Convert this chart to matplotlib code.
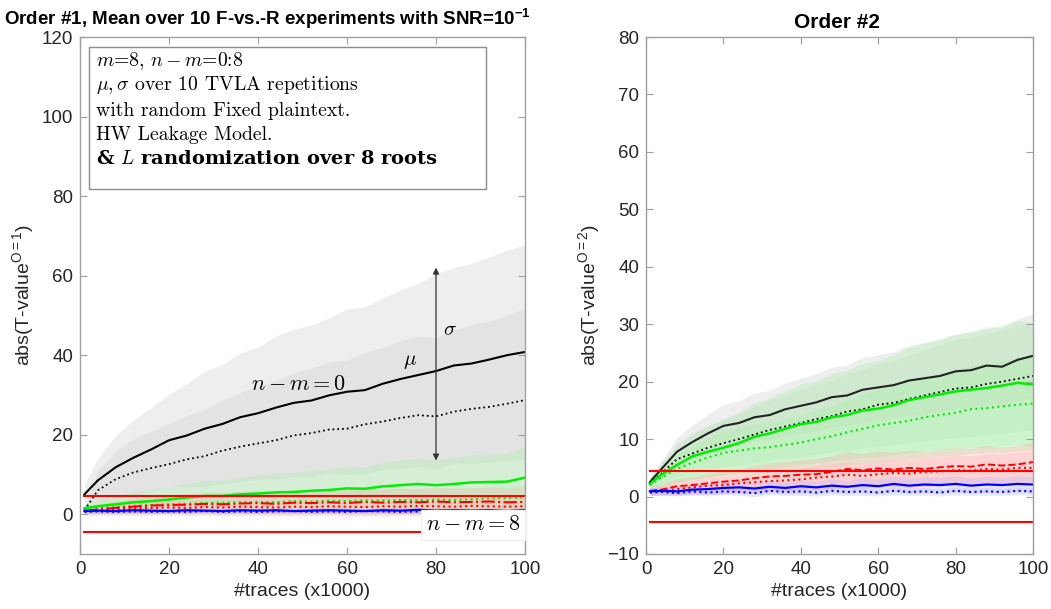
import matplotlib
matplotlib.use("Agg")
import matplotlib.pyplot as plt
from matplotlib.patches import Rectangle
import numpy as np

plt.rcParams['font.family'] = ['Liberation Sans', 'DejaVu Sans']
plt.rcParams['mathtext.fontset'] = 'custom'
plt.rcParams['mathtext.rm'] = 'Liberation Sans'
plt.rcParams['mathtext.it'] = 'Liberation Sans:italic'
plt.rcParams['mathtext.bf'] = 'Liberation Sans:bold'

# ---------------- data ----------------
traces = [1, 4, 8, 12, 16, 20, 24, 28, 32, 36, 40, 44, 48, 52, 56, 60, 64, 68, 72, 76, 80, 84, 88, 92, 96, 100]

# Order 1 (left)
o1_k_solid = [5.0, 8.5, 11.8, 14.2, 16.3, 18.6, 19.8, 21.5, 22.7, 24.4, 25.4, 26.8, 28.0, 28.6, 29.9, 30.8, 31.2, 32.8, 34.0, 35.0, 36.0, 37.4, 37.9, 38.9, 40.0, 40.8]
o1_k_solid_sd = [2.5, 5.5, 8.0, 9.5, 10.5, 11.6, 13.0, 14.5, 15.0, 16.2, 16.6, 18.0, 18.5, 19.0, 19.5, 20.8, 21.0, 21.5, 22.4, 23.0, 24.5, 24.6, 25.2, 25.8, 26.4, 27.0]
o1_k_dot = [1.0, 6.0, 8.8, 10.5, 11.6, 12.6, 13.8, 14.6, 16.0, 17.0, 17.8, 18.6, 19.8, 20.4, 21.3, 21.5, 22.6, 23.3, 24.2, 24.9, 24.6, 25.8, 26.5, 27.0, 27.8, 28.7]
o1_k_dot_sd = [0.8, 4.8, 7.0, 8.4, 9.3, 10.2, 11.0, 11.7, 12.8, 13.6, 14.3, 15.0, 15.8, 16.3, 17.0, 17.3, 18.0, 18.6, 19.4, 19.9, 19.8, 20.6, 21.2, 21.6, 22.3, 23.0]
o1_g_solid = [1.5, 2.0, 2.5, 3.0, 3.3, 3.7, 4.2, 4.6, 4.6, 5.0, 5.2, 5.5, 5.6, 5.9, 6.1, 6.5, 6.4, 7.0, 7.3, 7.6, 7.3, 7.6, 8.0, 8.1, 8.2, 9.2]
o1_g_solid_sd = [1.0, 1.7, 2.2, 2.6, 2.9, 3.2, 3.6, 3.9, 4.0, 4.3, 4.5, 4.8, 4.9, 5.1, 5.3, 5.6, 5.5, 6.0, 6.3, 6.5, 6.3, 6.6, 6.9, 7.0, 7.1, 7.8]
o1_g_dot = [1.2, 1.5, 1.8, 2.1, 2.3, 2.5, 2.6, 2.8, 2.9, 3.0, 3.1, 3.0, 3.3, 3.2, 3.4, 3.3, 3.5, 3.4, 3.6, 3.5, 3.7, 3.6, 3.8, 4.0, 4.1, 4.2]
o1_g_dot_sd = [1.0, 1.2, 1.5, 1.7, 1.9, 2.0, 2.1, 2.3, 2.4, 2.4, 2.5, 2.5, 2.6, 2.6, 2.7, 2.7, 2.8, 2.8, 2.9, 2.9, 3.0, 3.0, 3.0, 3.1, 3.1, 3.2]
o1_r_dd = [0.8, 1.2, 1.6, 1.9, 2.2, 2.3, 2.4, 2.6, 2.5, 2.7, 2.8, 2.6, 2.9, 2.8, 3.0, 2.8, 3.1, 2.9, 3.1, 3.0, 3.2, 3.0, 3.1, 3.2, 3.0, 3.1]
o1_r_dd_sd = [1.0, 1.5, 1.9, 2.2, 2.5, 2.6, 2.8, 2.9, 3.0, 3.1, 3.2, 3.1, 3.3, 3.2, 3.4, 3.3, 3.5, 3.4, 3.5, 3.4, 3.6, 3.5, 3.5, 3.6, 3.5, 3.6]
o1_r_dot = [0.7, 1.0, 1.3, 1.4, 1.6, 1.7, 1.6, 1.8, 1.7, 1.9, 1.8, 1.7, 1.9, 1.8, 2.0, 1.9, 1.8, 2.0, 1.9, 2.1, 2.0, 1.9, 2.1, 2.0, 1.9, 2.0]
o1_r_dot_sd = [0.8, 1.0, 1.2, 1.4, 1.5, 1.6, 1.6, 1.7, 1.7, 1.8, 1.8, 1.8, 1.9, 1.9, 1.9, 2.0, 2.0, 2.0, 2.0, 2.1, 2.1, 2.1, 2.1, 2.2, 2.2, 2.2]
o1_b_solid = [0.8, 0.9, 0.8, 1.0, 0.9, 0.8, 1.0, 0.9, 0.8, 1.0, 0.9, 1.0, 0.8, 0.9, 1.0, 0.9, 0.8, 1.0, 0.9, 1.1, 0.9, 1.0, 0.9, 1.0, 0.8, 1.0]
o1_b_solid_sd = [0.5, 0.6, 0.6, 0.6, 0.7, 0.6, 0.7, 0.6, 0.7, 0.7, 0.6, 0.7, 0.7, 0.6, 0.7, 0.7, 0.6, 0.7, 0.7, 0.8, 0.7, 0.7, 0.6, 0.7, 0.7, 0.7]
o1_b_dot = [0.6, 0.7, 0.6, 0.7, 0.6, 0.7, 0.6, 0.8, 0.6, 0.7, 0.6, 0.7, 0.8, 0.6, 0.7, 0.6, 0.8, 0.7, 0.6, 0.7, 0.8, 0.6, 0.7, 0.8, 0.7, 0.6]
o1_b_dot_sd = [0.4, 0.5, 0.5, 0.5, 0.5, 0.5, 0.5, 0.5, 0.5, 0.5, 0.5, 0.5, 0.5, 0.5, 0.5, 0.5, 0.5, 0.5, 0.5, 0.5, 0.5, 0.5, 0.5, 0.5, 0.5, 0.5]

# Order 2 (right)
o2_k_solid = [2.5, 4.8, 7.8, 9.5, 11.0, 12.3, 12.8, 13.8, 14.2, 15.2, 15.8, 16.4, 17.3, 17.6, 18.6, 19.0, 19.4, 20.2, 20.6, 21.0, 21.8, 22.0, 22.8, 22.6, 23.8, 24.5]
o2_k_solid_sd = [0.8, 1.5, 2.4, 2.9, 3.3, 3.7, 3.9, 4.2, 4.3, 4.6, 4.8, 5.0, 5.2, 5.3, 5.6, 5.7, 5.8, 6.1, 6.2, 6.3, 6.5, 6.6, 6.8, 6.8, 7.1, 7.3]
o2_k_dot = [2.3, 4.0, 6.5, 7.5, 8.5, 9.3, 10.0, 10.8, 11.6, 12.2, 12.8, 13.5, 14.0, 14.8, 15.2, 16.0, 16.3, 17.0, 17.6, 18.2, 18.8, 19.0, 19.6, 20.0, 20.5, 21.0]
o2_k_dot_sd = [1.0, 1.8, 2.9, 3.4, 3.8, 4.2, 4.5, 4.9, 5.2, 5.5, 5.8, 6.1, 6.3, 6.7, 6.8, 7.2, 7.3, 7.6, 7.9, 8.2, 8.5, 8.6, 8.8, 9.0, 9.2, 9.4]
o2_g_solid = [2.2, 3.8, 5.5, 7.0, 7.8, 8.5, 9.3, 10.4, 11.0, 11.8, 12.6, 13.0, 13.8, 14.2, 15.0, 15.3, 15.9, 16.8, 17.3, 17.8, 18.3, 18.6, 18.9, 19.3, 19.8, 19.5]
o2_g_solid_sd = [1.2, 2.1, 3.2, 4.0, 4.5, 4.9, 5.3, 5.9, 6.2, 6.6, 7.0, 7.2, 7.6, 7.8, 8.2, 8.4, 8.7, 9.2, 9.4, 9.7, 9.9, 10.1, 10.3, 10.5, 10.8, 10.9]
o2_g_dot = [2.0, 3.3, 4.8, 5.9, 6.8, 7.6, 8.0, 8.4, 8.6, 9.0, 9.4, 10.0, 10.5, 11.2, 11.8, 12.4, 12.8, 13.2, 13.8, 14.2, 14.6, 15.2, 15.4, 15.7, 16.0, 16.2]
o2_g_dot_sd = [1.0, 1.7, 2.4, 3.0, 3.4, 3.8, 4.0, 4.2, 4.3, 4.5, 4.7, 5.0, 5.3, 5.7, 6.0, 6.3, 6.5, 6.7, 7.0, 7.2, 7.4, 7.7, 7.8, 8.0, 8.1, 8.2]
o2_r_dash = [1.0, 1.2, 1.8, 2.0, 2.3, 2.6, 2.8, 3.2, 3.5, 3.6, 3.8, 3.9, 4.3, 4.8, 4.6, 4.9, 4.7, 5.0, 4.8, 5.1, 5.3, 5.2, 5.6, 5.4, 5.6, 6.0]
o2_r_dash_sd = [0.8, 1.0, 1.3, 1.5, 1.7, 1.9, 2.0, 2.2, 2.4, 2.5, 2.6, 2.7, 2.8, 3.0, 2.9, 3.0, 3.0, 3.1, 3.0, 3.1, 3.2, 3.2, 3.3, 3.2, 3.3, 3.4]
o2_r_dot = [0.8, 1.0, 1.3, 1.6, 1.9, 2.0, 2.3, 2.5, 2.7, 2.8, 3.0, 3.3, 3.5, 3.8, 3.6, 3.9, 4.1, 4.0, 4.3, 4.4, 4.6, 4.5, 4.8, 4.7, 5.0, 5.0]
o2_r_dot_sd = [0.6, 0.8, 1.0, 1.2, 1.4, 1.5, 1.6, 1.7, 1.8, 1.9, 2.0, 2.1, 2.2, 2.3, 2.2, 2.3, 2.4, 2.4, 2.5, 2.5, 2.6, 2.6, 2.7, 2.7, 2.8, 2.8]
o2_b_solid = [0.9, 1.0, 0.9, 1.2, 1.3, 1.5, 1.6, 1.4, 1.7, 1.5, 1.8, 1.6, 1.9, 1.7, 2.0, 1.8, 2.2, 1.9, 2.1, 2.0, 2.2, 1.9, 2.1, 2.0, 2.2, 2.1]
o2_b_solid_sd = [0.6, 0.7, 0.7, 0.8, 0.9, 1.0, 1.0, 1.0, 1.1, 1.0, 1.2, 1.1, 1.2, 1.1, 1.3, 1.2, 1.4, 1.3, 1.4, 1.3, 1.4, 1.3, 1.4, 1.3, 1.4, 1.4]
o2_b_dot = [0.7, 0.8, 0.6, 0.9, 0.7, 0.9, 0.8, 0.6, 1.0, 0.8, 0.9, 0.7, 1.0, 0.8, 0.9, 0.7, 1.0, 0.8, 0.9, 0.7, 1.0, 0.8, 0.9, 0.8, 1.0, 0.9]
o2_b_dot_sd = [0.5, 0.5, 0.5, 0.6, 0.6, 0.6, 0.6, 0.6, 0.7, 0.6, 0.7, 0.6, 0.7, 0.6, 0.7, 0.6, 0.7, 0.6, 0.7, 0.6, 0.7, 0.6, 0.7, 0.6, 0.7, 0.7]

threshold = 4.5

info_lines = [r"$m$=8, $n-m$=0:8",
              r"$\mu, \sigma$ over 10 TVLA repetitions",
              r"with random Fixed plaintext.",
              r"HW Leakage Model."]
info_bold = r"& $L$ randomization over 8 roots"

# --------------- figure ---------------
W, H = 1051, 609
fig = plt.figure(figsize=(W / 100, H / 100), dpi=100)

ax1 = fig.add_axes([80 / W, (H - 554) / H, 445 / W, 517 / H])
ax2 = fig.add_axes([646 / W, (H - 554) / H, 387 / W, 517 / H])

x = np.array(traces)

band_gray = '#d0d0d0'
band_green = '#a8f0a8'
band_red = '#ffb0b0'
band_blue = '#b0b0ff'


def band(ax, m, s, color, alpha):
    m = np.array(m); s = np.array(s)
    ax.fill_between(x, m - s, m + s, color=color, alpha=alpha, lw=0)


# left
band(ax1, o1_k_solid, o1_k_solid_sd, band_gray, 0.35)
band(ax1, o1_k_dot, o1_k_dot_sd, band_gray, 0.35)
band(ax1, o1_g_solid, o1_g_solid_sd, band_green, 0.35)
band(ax1, o1_g_dot, o1_g_dot_sd, band_green, 0.3)
band(ax1, o1_r_dd, o1_r_dd_sd, band_red, 0.3)
band(ax1, o1_r_dot, o1_r_dot_sd, band_red, 0.3)
band(ax1, o1_b_solid, o1_b_solid_sd, band_blue, 0.3)
band(ax1, o1_b_dot, o1_b_dot_sd, band_blue, 0.3)

ax1.plot(x, o1_k_solid, color='k', ls='-', lw=1.5)
ax1.plot(x, o1_k_dot, color='k', ls=':', lw=1.3)
ax1.plot(x, o1_g_solid, color='#00ee00', ls='-', lw=1.8)
ax1.plot(x, o1_g_dot, color='#00ee00', ls=':', lw=1.5)
ax1.plot(x, o1_r_dd, color='red', ls='-.', lw=1.5)
ax1.plot(x, o1_r_dot, color='red', ls=':', lw=1.5)
ax1.plot(x, o1_b_solid, color='blue', ls='-', lw=1.6)
ax1.plot(x, o1_b_dot, color='blue', ls=':', lw=1.5)
ax1.plot([traces[0], traces[-1]], [threshold, threshold], color='red', lw=1.5)
ax1.plot([traces[0], traces[-1]], [-threshold, -threshold], color='red', lw=1.5)

# right
band(ax2, o2_k_solid, o2_k_solid_sd, band_gray, 0.35)
band(ax2, o2_k_dot, o2_k_dot_sd, band_gray, 0.3)
band(ax2, o2_g_solid, o2_g_solid_sd, band_green, 0.35)
band(ax2, o2_g_dot, o2_g_dot_sd, band_green, 0.35)
band(ax2, o2_r_dash, o2_r_dash_sd, band_red, 0.35)
band(ax2, o2_r_dot, o2_r_dot_sd, band_red, 0.3)
band(ax2, o2_b_solid, o2_b_solid_sd, band_blue, 0.3)
band(ax2, o2_b_dot, o2_b_dot_sd, band_blue, 0.3)

ax2.plot(x, o2_k_solid, color='#222222', ls='-', lw=1.5)
ax2.plot(x, o2_k_dot, color='k', ls=':', lw=1.3)
ax2.plot(x, o2_g_solid, color='#00ee00', ls='-', lw=1.8)
ax2.plot(x, o2_g_dot, color='#00ee00', ls=':', lw=1.5)
ax2.plot(x, o2_r_dash, color='red', ls='--', lw=1.4)
ax2.plot(x, o2_r_dot, color='red', ls=':', lw=1.5)
ax2.plot(x, o2_b_solid, color='blue', ls='-', lw=1.6)
ax2.plot(x, o2_b_dot, color='blue', ls=':', lw=1.5)
ax2.plot([traces[0], traces[-1]], [threshold, threshold], color='red', lw=1.5)
ax2.plot([traces[0], traces[-1]], [-threshold, -threshold], color='red', lw=1.5)

# axes styling (MATLAB-like)
for ax, ylim, yt in [(ax1, (-10, 120), np.arange(0, 121, 20)), (ax2, (-10, 80), np.arange(-10, 81, 10))]:
    ax.set_xlim(0, 100)
    ax.set_ylim(*ylim)
    ax.set_xticks(np.arange(0, 101, 20))
    ax.set_yticks(yt)
    ax.tick_params(direction='in', length=5, width=0.8, colors='#a0a0a0', labelcolor='#262626',
                   labelsize=13.5, top=True, right=True, pad=5)
    for sp in ax.spines.values():
        sp.set_color('#a0a0a0')
        sp.set_linewidth(1.0)
    ax.set_xlabel('#traces (x1000)', fontsize=14, color='#262626', labelpad=4)

ax1.set_ylabel(r'abs(T-value$^{\mathrm{O=1}}$)', fontsize=14, color='#262626', labelpad=4)
ax2.set_ylabel(r'abs(T-value$^{\mathrm{O=2}}$)', fontsize=14, color='#262626', labelpad=4)

# info box in left axes
ax1.add_patch(Rectangle((1.95, 81.8), 89.2, 35.8, fill=True, facecolor='white',
                        edgecolor='#8c8c8c', lw=1.0, zorder=5))
line_y = [114.0, 107.9, 101.5, 95.3, 89.2]
for ty, s in zip(line_y[:4], info_lines):
    ax1.text(3.5, ty, s, fontsize=14.2, family='cmr10', math_fontfamily='cm',
             va='center', ha='left', zorder=6)
ax1.text(3.5, line_y[4], info_bold, fontsize=14, family='DejaVu Serif', fontweight='bold',
         math_fontfamily='cm', va='center', ha='left', zorder=6)

# annotations
ax1.annotate('', xy=(80, 13.5), xytext=(80, 62),
             arrowprops=dict(arrowstyle='<|-|>', color='#333333', lw=0.9,
                             mutation_scale=9, shrinkA=0, shrinkB=0))
ax1.text(81.5, 46.5, r'$\sigma$', fontsize=15, math_fontfamily='cm', va='center', ha='left')
ax1.text(72.5, 38.5, r'$\mu$', fontsize=15, math_fontfamily='cm', va='center', ha='left')
ax1.text(49.2, 32.7, r'$n-m=0$', fontsize=16, math_fontfamily='cm', va='center', ha='center')
ax1.text(88.4, -2.7, r'$n-m=8$', fontsize=16, math_fontfamily='cm', va='center', ha='center',
         bbox=dict(boxstyle='square,pad=0.2', facecolor='white', edgecolor='#eeeeee', lw=0.8),
         zorder=6, clip_on=False)

# titles
fig.text(4 / W, 1 - 25 / H, r'Order #1, Mean over 10 F-vs.-R experiments with SNR=10$^{\mathbf{-1}}$',
         fontsize=13.5, fontweight='bold', ha='left', va='baseline')
fig.text(837.5 / W, 1 - 28 / H, 'Order #2', fontsize=15, fontweight='bold', ha='center', va='baseline')

fig.savefig('out.png', dpi=100)
